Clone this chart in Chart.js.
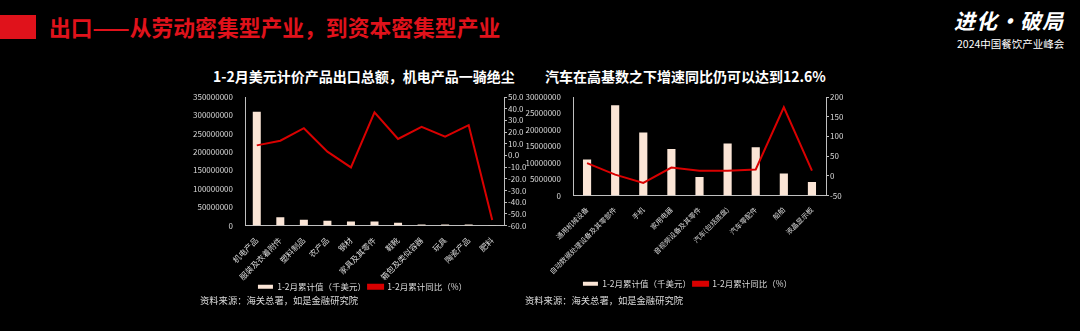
<!DOCTYPE html>
<html>
<head>
<meta charset="utf-8">
<script src="https://cdn.jsdelivr.net/npm/chart.js@4.4.1/dist/chart.umd.min.js"></script>
<style>
  html, body { margin: 0; padding: 0; background: #000; width: 1080px; height: 331px; overflow: hidden; }
  body { position: relative; font-family: "Noto Sans CJK SC", sans-serif; }
  .bar-mark { position: absolute; left: 0; top: 15px; width: 36px; height: 24px; background: #e0121b; }
  .headline { position: absolute; left: 49px; top: 12px; font-size: 21.8px; font-weight: bold; color: #e0121b; line-height: 30px; white-space: nowrap; }
  .logo { position: absolute; left: 954px; top: 6px; color: #fff; font-size: 21px; font-weight: bold; font-style: italic; line-height: 28px; letter-spacing: 1px; white-space: nowrap; }
  .logo-sub { position: absolute; left: 957px; top: 37px; color: #fff; font-size: 10.5px; line-height: 14px; white-space: nowrap; }
  .title { position: absolute; top: 66px; color: #fff; font-size: 14px; font-weight: bold; line-height: 20px; white-space: nowrap; }
  .source { position: absolute; top: 293px; color: #d9d9d9; font-size: 9.3px; line-height: 14px; white-space: nowrap; }
  .box { position: absolute; }
</style>
</head>
<body>
<div class="bar-mark"></div>
<div class="headline">出口——从劳动密集型产业，到资本密集型产业</div>
<div class="logo">进化·破局</div>
<div class="logo-sub">2024中国餐饮产业峰会</div>

<div class="title" style="left:213px">1-2月美元计价产品出口总额，机电产品一骑绝尘</div>
<div class="title" style="left:545px">汽车在高基数之下增速同比仍可以达到12.6%</div>

<div class="box" style="left:190px; top:88px; width:345px; height:213px;"><canvas id="exportChart"></canvas></div>
<div class="box" style="left:520px; top:88px; width:335px; height:210px;"><canvas id="autoChart"></canvas></div>

<div class="source" style="left:200px">资料来源：海关总署，如是金融研究院</div>
<div class="source" style="left:525px">资料来源：海关总署，如是金融研究院</div>

<script>
// 1-2月美元计价出口：各类产品
const exportCategories = ["机电产品", "服装及衣着附件", "塑料制品", "农产品", "钢材", "家具及其零件", "鞋靴", "箱包及类似容器", "玩具", "陶瓷产品", "肥料"];
const exportValues = [310000000, 22700000, 15600000, 12800000, 11000000, 11000000, 7400000, 3000000, 2500000, 2500000, 500000];
const exportGrowth = [8.6, 12.6, 23.3, 3.2, -10.3, 36.8, 14.1, 24.4, 16.1, 25.9, -55.2];

// 机电产品细分
const autoCategories = ["通用机械设备", "自动数据处理设备及其零部件", "手机", "家用电器", "音视频设备及其零件", "汽车(包括底盘)", "汽车零配件", "船舶", "液晶显示板"];
const autoValues = [11000000, 27500000, 19200000, 14200000, 5650000, 15800000, 14700000, 6700000, 4100000];
const autoGrowth = [32, 3, -18, 21, 13, 12.6, 16, 174, 13];

const valueLabel = "1-2月累计值（千美元）";
const growthLabel = "1-2月累计同比（%）";

const barColor = "#fbe5d6";
const lineColor = "#d90000";
const axisColor = "#bfbfbf";
const textColor = "#d9d9d9";
const fontFamily = "'Noto Sans CJK SC', sans-serif";

function fixWidth(w) {
    return scale => { scale.width = w; };
}
function fixHeight(h) {
    return scale => { scale.height = h; };
}

function buildChart(canvasId, cfg) {
    const ctx = document.getElementById(canvasId).getContext("2d");
    return new Chart(ctx, {
        type: "bar",
        data: {
            labels: cfg.labels,
            datasets: [
                {
                    type: "line",
                    label: growthLabel,
                    data: cfg.growth,
                    yAxisID: "y1",
                    borderColor: lineColor,
                    backgroundColor: lineColor,
                    borderWidth: 2,
                    pointRadius: 0,
                    tension: 0,
                    order: 0
                },
                {
                    type: "bar",
                    label: valueLabel,
                    data: cfg.values,
                    yAxisID: "y",
                    backgroundColor: barColor,
                    borderWidth: 0,
                    categoryPercentage: 1,
                    barPercentage: cfg.barPct,
                    order: 1
                }
            ]
        },
        options: {
            responsive: true,
            maintainAspectRatio: false,
            animation: false,
            layout: { padding: { top: 9, left: 0, right: 0, bottom: 0 } },
            plugins: {
                legend: {
                    position: "bottom",
                    reverse: true,
                    labels: {
                        color: textColor,
                        font: { family: fontFamily, size: 8.5 },
                        boxWidth: 15,
                        boxHeight: 4,
                        padding: 2
                    }
                },
                tooltip: { enabled: false }
            },
            scales: {
                x: {
                    grid: { display: false },
                    border: { display: true, color: axisColor, width: 1 },
                    ticks: {
                        color: textColor,
                        font: { family: fontFamily, size: cfg.xFont },
                        minRotation: 45,
                        maxRotation: 45,
                        autoSkip: false,
                        padding: 2
                    },
                    afterFit: fixHeight(cfg.xHeight)
                },
                y: {
                    position: "left",
                    min: 0,
                    max: cfg.leftMax,
                    grid: { display: false },
                    border: { display: true, color: axisColor, width: 1 },
                    ticks: {
                        stepSize: cfg.leftStep,
                        autoSkip: false,
                        color: textColor,
                        font: { family: fontFamily, size: 8 },
                        padding: 4,
                        callback: v => String(v)
                    },
                    afterFit: fixWidth(cfg.leftWidth)
                },
                y1: {
                    position: "right",
                    min: cfg.rightMin,
                    max: cfg.rightMax,
                    grid: { display: true, drawOnChartArea: false, drawTicks: true, tickLength: 3, color: axisColor },
                    border: { display: true, color: axisColor, width: 1 },
                    ticks: {
                        stepSize: cfg.rightStep,
                        autoSkip: false,
                        color: textColor,
                        font: { family: fontFamily, size: 8 },
                        padding: 1,
                        callback: v => cfg.rightFmt(v)
                    },
                    afterFit: fixWidth(cfg.rightWidth)
                }
            }
        }
    });
}

buildChart("exportChart", {
    labels: exportCategories,
    values: exportValues,
    growth: exportGrowth,
    barPct: 0.34,
    xFont: 8,
    xHeight: 55,
    leftMax: 350000000,
    leftStep: 50000000,
    leftWidth: 55,
    rightMin: -60,
    rightMax: 50,
    rightStep: 10,
    rightWidth: 31,
    rightFmt: v => v.toFixed(1)
});

buildChart("autoChart", {
    labels: autoCategories,
    values: autoValues,
    growth: autoGrowth,
    barPct: 0.29,
    xFont: 7,
    xHeight: 82,
    leftMax: 30000000,
    leftStep: 5000000,
    leftWidth: 53,
    rightMin: -50,
    rightMax: 200,
    rightStep: 50,
    rightWidth: 29,
    rightFmt: v => String(v)
});
</script>
</body>
</html>
